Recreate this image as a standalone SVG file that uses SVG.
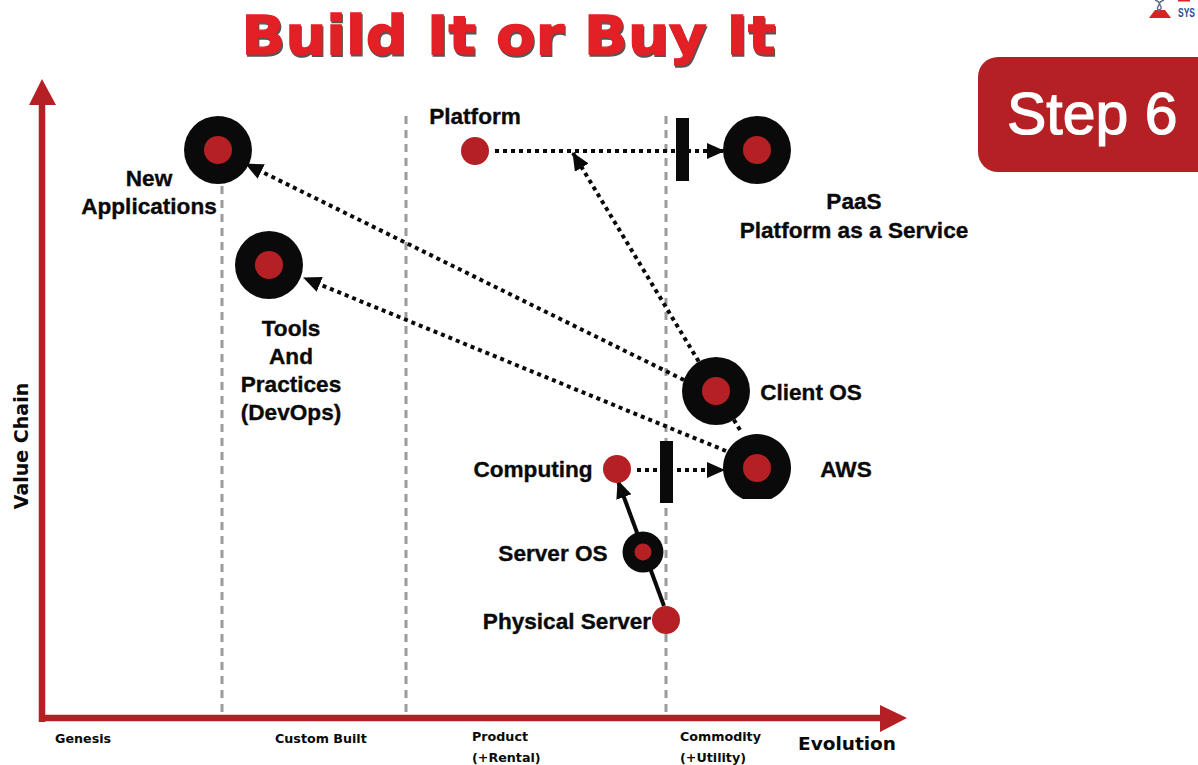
<svg xmlns="http://www.w3.org/2000/svg" width="1198" height="765" viewBox="0 0 1198 765">
<style>
.lbl{font-family:"Liberation Sans",Arial,sans-serif;font-weight:700;font-size:22.6px;fill:#0a0a0a;stroke:#0a0a0a;stroke-width:.35;text-anchor:middle}
.cm{font-family:"DejaVu Sans",sans-serif;font-weight:700;font-size:12.7px;fill:#0a0a0a}
.ev{stroke:#9b9b9b;stroke-width:3;stroke-dasharray:8 6;fill:none}
.dot{stroke:#0a0a0a;stroke-width:4;stroke-dasharray:4 4;fill:none}
.outer{fill:#0a0a0a}
.inner{fill:#b52025}
.ttl{font-family:"DejaVu Sans",sans-serif;font-weight:700;font-size:54px;text-anchor:middle;stroke-width:1.4}
</style>
<defs>
<marker id="ah" markerUnits="userSpaceOnUse" markerWidth="20" markerHeight="20" refX="17" refY="10" orient="auto"><path d="M0 2L18 10L0 18Z" fill="#0a0a0a"/></marker>
</defs>
<rect width="1198" height="765" fill="#fff"/>
<g id="title"><text x="508.500" y="54" class="ttl" fill="#555" stroke="#555" textLength="534" lengthAdjust="spacingAndGlyphs" transform="translate(1 1.5)">Build It or Buy It</text><text x="508.500" y="54" class="ttl" fill="#e22025" stroke="#e22025" textLength="534" lengthAdjust="spacingAndGlyphs">Build It or Buy It</text></g>
<g id="logo"><path d="M1149 18L1155 10L1165 10L1171 18Z" fill="#d8231f"/><path d="M1155 0C1166 4 1152 7 1160 11M1164 0C1153 4 1167 7 1158 11" fill="none" stroke="#5a6a8a" stroke-width="1.4"/><rect x="1178" y="0" width="12" height="1.500" fill="#d8231f"/><text x="1178" y="17" font-family="'Liberation Sans',sans-serif" font-weight="700" font-size="12" fill="#2c4a94" textLength="17" lengthAdjust="spacingAndGlyphs">SYS</text></g>
<g id="step"><rect x="978" y="57" width="240" height="115" rx="20" fill="#b52025"/><text x="1007" y="134" font-family="'Liberation Sans',Arial,sans-serif" font-size="59" fill="#fff" stroke="#fff" stroke-width="1.2">Step 6</text></g>
<g id="axes">
<line x1="42" y1="100" x2="42" y2="722" stroke="#b52025" stroke-width="6.500"/>
<path d="M29 105L42 79L56 105Z" fill="#b52025"/>
<line x1="39" y1="718" x2="885" y2="718" stroke="#b52025" stroke-width="6.500"/>
<path d="M880 705L907 718L880 732Z" fill="#b52025"/>
<text transform="translate(28 446) rotate(-90)" font-family="'DejaVu Sans',sans-serif" font-weight="700" font-size="19" fill="#0a0a0a" text-anchor="middle">Value Chain</text>
<text x="55" y="743" class="cm">Genesis</text>
<text x="275" y="743" class="cm">Custom Built</text>
<text x="472" y="741" class="cm">Product</text>
<text x="472" y="762" class="cm">(+Rental)</text>
<text x="680" y="741" class="cm">Commodity</text>
<text x="680" y="762" class="cm">(+Utility)</text>
<text x="798" y="750" font-family="'DejaVu Sans',sans-serif" font-weight="700" font-size="18.500" fill="#0a0a0a">Evolution</text>
</g>
<g id="stages">
<line class="ev" x1="222" y1="116" x2="222" y2="714"/>
<line class="ev" x1="406" y1="116" x2="406" y2="714"/>
<line class="ev" x1="666" y1="116" x2="666" y2="714"/>
</g>
<g id="connectors">
<line class="dot" x1="495" y1="151" x2="724" y2="151" marker-end="url(#ah)"/>
<line class="dot" x1="740" y1="430" x2="573" y2="153" marker-end="url(#ah)"/>
<line class="dot" x1="684" y1="380" x2="246" y2="164" marker-end="url(#ah)"/>
<line class="dot" x1="726" y1="451" x2="304" y2="278" marker-end="url(#ah)"/>
<line class="dot" x1="637" y1="470" x2="724" y2="470" marker-end="url(#ah)"/>
<line x1="664" y1="606" x2="618" y2="481" stroke="#0a0a0a" stroke-width="4" marker-end="url(#ah)"/>
<rect x="676" y="118" width="13" height="63" fill="#0a0a0a"/>
<rect x="660" y="441" width="13" height="62" fill="#0a0a0a"/>
</g>
<g id="new-applications"><circle class="outer" cx="218" cy="150" r="34"/><circle class="inner" cx="218" cy="150" r="14"/><text class="lbl" x="149" y="186">New</text><text class="lbl" x="149" y="214">Applications</text></g>
<g id="tools"><circle class="outer" cx="269" cy="265" r="34"/><circle class="inner" cx="269" cy="265" r="14"/><text class="lbl" x="291" y="336">Tools</text><text class="lbl" x="291" y="364">And</text><text class="lbl" x="291" y="392">Practices</text><text class="lbl" x="291" y="420">(DevOps)</text></g>
<g id="platform"><circle class="inner" cx="475" cy="151" r="14"/><text class="lbl" x="475" y="124">Platform</text></g>
<g id="paas"><circle class="outer" cx="757" cy="150" r="34"/><circle class="inner" cx="757" cy="150" r="14"/><text class="lbl" x="854" y="209">PaaS</text><text class="lbl" x="854" y="238">Platform as a Service</text></g>
<g id="client-os"><circle class="outer" cx="716" cy="391" r="34"/><circle class="inner" cx="716" cy="391" r="14"/><text class="lbl" x="811" y="400">Client OS</text></g>
<g id="aws"><path class="outer" d="M743 499A34 34 0 1 1 771 499Z"/><circle class="inner" cx="757" cy="468" r="14"/><text class="lbl" x="846" y="477">AWS</text></g>
<g id="computing"><circle class="inner" cx="617" cy="469" r="14"/><text class="lbl" x="533" y="477">Computing</text></g>
<g id="server-os"><circle class="outer" cx="643" cy="552" r="20.500"/><circle class="inner" cx="643" cy="552" r="8.500"/><text class="lbl" x="553" y="561">Server OS</text></g>
<g id="physical-server"><circle class="inner" cx="666" cy="620" r="14"/><text class="lbl" x="567" y="629">Physical Server</text></g>
</svg>
